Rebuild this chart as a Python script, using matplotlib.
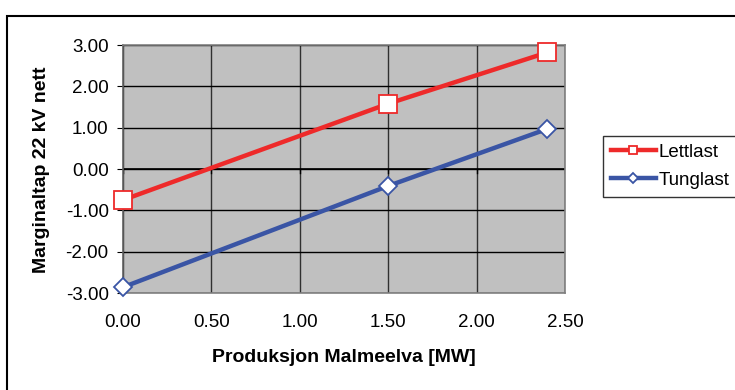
import matplotlib
matplotlib.use("Agg")
import matplotlib.pyplot as plt
from matplotlib.patches import Rectangle

plt.rcParams['font.family'] = ['Liberation Sans', 'DejaVu Sans']

# Production at Malmeelva [MW]
produksjon = [0.0, 1.5, 2.4]
# Marginal loss for the 22 kV grid
lettlast = [-0.75, 1.58, 2.82]
tunglast = [-2.86, -0.41, 0.97]

x_ticks = [0.0, 0.5, 1.0, 1.5, 2.0, 2.5]
y_ticks = [-3.0, -2.0, -1.0, 0.0, 1.0, 2.0, 3.0]

W, H = 735, 390
FS_TICK = 13.5
FS_LABEL = 14
FS_LEG = 13.5
fig = plt.figure(figsize=(W / 100, H / 100), dpi=100)

# outer chart frame
fig.patches.append(Rectangle((7 / W, -0.1), 1.2, 1 - 16 / H + 0.1,
                             transform=fig.transFigure, fill=False,
                             edgecolor='black', linewidth=1.5, zorder=0))

ax = fig.add_axes([123 / W, 1 - 293 / H, (565 - 123) / W, (293 - 45) / H])
ax.set_facecolor('#C0C0C0')
ax.set_xlim(0, 2.5)
ax.set_ylim(-3, 3)
ax.set_xticks(x_ticks)
ax.set_yticks(y_ticks)
ax.set_xticklabels([f"{v:.2f}" for v in x_ticks], fontsize=FS_TICK)
ax.set_yticklabels([f"{v:.2f}" for v in y_ticks], fontsize=FS_TICK)

for s in ax.spines.values():
    s.set_color('#808080')
    s.set_linewidth(1.2)
ax.spines['left'].set_color('#606060')

ax.grid(True, axis='y', color='black', linewidth=1.0)
ax.grid(True, axis='x', color='#303030', linewidth=1.0)
ax.set_axisbelow(True)

ax.tick_params(axis='y', direction='out', length=4.3, color='black', pad=6)
ax.tick_params(axis='x', length=0, pad=15)

# horizontal axis drawn through zero with small tick marks
ax.axhline(0, color='black', linewidth=1.2, zorder=1)
for xv in x_ticks:
    ax.plot([xv, xv], [0, -0.1], color='black', linewidth=1.0, zorder=1)

l1, = ax.plot(produksjon, lettlast, color='#EE2A2A', linewidth=3.2, marker='s',
              markersize=13, markerfacecolor='white', markeredgecolor='#EE2A2A',
              markeredgewidth=1.3, zorder=3, clip_on=False)
l2, = ax.plot(produksjon, tunglast, color='#3A55A5', linewidth=3.2, marker='D',
              markersize=9.5, markerfacecolor='white', markeredgecolor='#3A55A5',
              markeredgewidth=1.3, zorder=3, clip_on=False)

fig.text(344 / W, 1 - 358 / H, 'Produksjon Malmeelva [MW]', fontsize=FS_LABEL,
         fontweight='bold', ha='center', va='center')
fig.text(42 / W, 1 - 170 / H, 'Marginaltap 22 kV nett', fontsize=FS_LABEL,
         fontweight='bold', ha='center', va='center', rotation=90)

leg = fig.legend(handles=[l1, l2], labels=['Lettlast', 'Tunglast'],
                 loc='upper left', bbox_to_anchor=(603 / W, 1 - 136 / H),
                 fontsize=FS_LEG, frameon=True, fancybox=False,
                 edgecolor='black', borderpad=0.4, handlelength=2.45,
                 handletextpad=0.12, labelspacing=0.6, borderaxespad=0)
leg.get_frame().set_linewidth(1.0)
leg.legend_handles[0].set_markersize(6)
leg.legend_handles[1].set_markersize(5)

fig.savefig('out.png', dpi=100)
